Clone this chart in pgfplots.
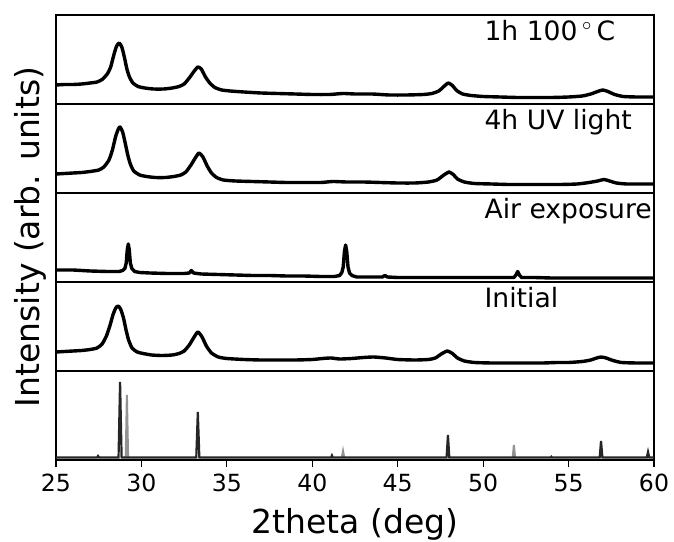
\documentclass[border=0pt]{standalone}
\usepackage{fontspec}
\setmainfont{DejaVu Sans}
\usepackage{pgfplots}
\pgfplotsset{compat=1.18}

\pgfplotsset{
  panel/.style={
    scale only axis, width=299pt, height=44.5pt,
    xmin=25, xmax=60, ymin=0, ymax=89,
    xtick=\empty, ytick=\empty,
    axis line style={line width=0.6pt, black},
    anchor=south west,
  },
}
\tikzset{
  trace/.style={black, line width=1.7pt, line join=round},
  tag/.style={anchor=base west, font=\fontsize{13.3}{16}\selectfont, inner sep=0pt},
}

\begin{document}
\begin{tikzpicture}
\path[use as bounding box] (0,0) rectangle (337pt,270.5pt);

% reference pattern (sticks)
\begin{axis}[panel, at={(28pt,40.5pt)},
  xtick={25,30,...,60}, xtick pos=left, tick align=outside,
  major tick length=3.5pt, tick style={black, line width=0.6pt},
  /pgf/number format/assume math mode=true,
  xticklabel style={font=\fontsize{11.8}{14}\selectfont},
  xlabel={2theta (deg)},
  xlabel style={font=\fontsize{16.5}{20}\selectfont, at={(axis description cs:0.5,0)}, anchor=base, yshift=-36.5pt},
]
\addplot[gray!85, line width=1pt] coordinates {(29.08,2.5)(29.15,65)(29.22,2.5)};
\addplot[gray!85, line width=1pt] coordinates {(41.73,2.5)(41.80,9)(41.87,2.5)};
\addplot[gray!85, line width=1pt] coordinates {(51.73,2.5)(51.80,15)(51.87,2.5)};
\addplot[black!85, line width=1.1pt] coordinates {
(25,2.5)(27.40,2.5)(27.46,4)(27.52,2.5)(28.66,2.5)(28.75,78)(28.84,2.5)
(33.21,2.5)(33.30,48)(33.39,2.5)(41.10,2.5)(41.15,4.5)(41.20,2.5)
(47.86,2.5)(47.94,25)(48.02,2.5)(53.96,2.5)(54.00,3.2)(54.04,2.5)
(56.82,2.5)(56.90,19)(56.98,2.5)(59.58,2.5)(59.65,8)(59.72,2.5)(60,2.5)};
\end{axis}

% Initial
\begin{axis}[panel, at={(28pt,85pt)}]
\addplot[trace, smooth, tension=0.35] coordinates {
(25,19)(25.5,19.5)(26,20)(26.5,20.5)(27,21.5)(27.4,23)(27.7,27)(27.95,35)(28.15,45)
(28.35,57)(28.5,63)(28.63,65)(28.78,62)(28.95,53)(29.1,41)(29.25,31)(29.45,23)(29.75,19)
(30.1,17.5)(30.6,16)(31.2,15.5)(31.8,16)(32.2,17.5)(32.5,20)(32.8,26)(33.05,33)(33.3,39)
(33.55,34)(33.8,25)(34.1,18)(34.5,14)(35,12.5)(36,11.5)(37,11)(38,11)(39,11)(40,11.5)
(40.6,12.5)(41.1,13)(41.6,12)(42.3,12.5)(43,13.5)(43.6,14)(44.3,13)(45,11.5)(46,11)
(46.8,11.5)(47.2,13)(47.55,17)(47.9,20)(48.2,17.5)(48.5,13)(48.9,10)(49.5,8.5)(50.5,8)
(51.5,8)(52.5,8)(53.5,8)(54.3,8.5)(55,8.5)(55.8,9.5)(56.3,11)(56.65,13)(56.9,14)(57.2,13)
(57.6,10.5)(58.1,8.5)(59,8)(60,8)};
\node[tag] at (rel axis cs:0.716,0.708) {Initial};
\end{axis}

% Air exposure
\begin{axis}[panel, at={(28pt,129.5pt)}]
\addplot[trace] coordinates {
(25,12)(26,12)(27,11)(28,10.5)(28.7,10.5)(28.9,11.5)(29.03,13.5)(29.11,19)(29.17,32)(29.23,38)
(29.29,32)(29.35,19)(29.44,13.5)(29.6,10.5)(29.9,9.5)(30.5,9)(31.5,8.5)(32.5,8.5)(32.8,9)(32.92,11.5)
(33.05,9)(33.5,8)(34.5,7.5)(35.5,7)(36.5,6.5)(37.5,6.5)(38.5,6)(39.5,6)(40.5,5.5)(41.3,5.5)
(41.6,6.5)(41.73,9.5)(41.81,15)(41.88,30)(41.95,37)(42.02,30)(42.09,15)(42.18,9)(42.32,6.5)(42.6,5)(43.5,5)
(44.1,5)(44.25,6.5)(44.4,5)(45,4.5)(46,4.5)(47,4.5)(48,4.5)(49,4.5)(50,4.5)(51,4.5)
(51.8,4.5)(51.92,7)(52.02,10.5)(52.12,7)(52.25,4.5)(53,4.5)(54,4)(55,4)(56,4)(57,4)
(58,4)(59,4)(60,4)};
\node[tag] at (rel axis cs:0.716,0.708) {Air exposure};
\end{axis}

% 4h UV light
\begin{axis}[panel, at={(28pt,174pt)}]
\addplot[trace, smooth, tension=0.35] coordinates {
(25,19)(25.5,19.5)(26,20)(26.5,20.5)(27,21.5)(27.5,23)(27.8,26)(28.1,33)(28.3,43)
(28.5,57)(28.65,64)(28.75,66)(28.9,61)(29.05,50)(29.2,38)(29.35,29)(29.55,22)(29.9,18)
(30.3,16.5)(30.8,15.5)(31.4,15.5)(31.9,16.5)(32.3,18)(32.6,21)(32.9,28)(33.15,35)(33.37,40)
(33.6,36)(33.85,27)(34.1,20)(34.4,15.5)(34.8,13)(35.5,12)(36.5,11.5)(37.5,11)(38.5,10.5)
(39.5,10.5)(40.5,10.5)(41.2,11.5)(42,11)(43,11)(44,10.5)(45,10)(46,10)(46.8,11)(47.3,13)
(47.7,18)(48,21)(48.25,18.5)(48.5,14)(48.9,11)(49.5,9.5)(50.5,9)(51.5,8.5)(52.5,8.5)
(53.5,8.5)(54.5,8.5)(55.5,9)(56.2,10.5)(56.7,12)(57.07,13.5)(57.4,12)(57.8,10)(58.4,9)
(59.2,9)(60,9)};
\node[tag] at (rel axis cs:0.716,0.708) {4h UV light};
\end{axis}

% 1h 100 C
\begin{axis}[panel, at={(28pt,218.5pt)}]
\addplot[trace, smooth, tension=0.35] coordinates {
(25,19)(25.5,19.5)(26,19.5)(26.5,20)(27,21)(27.4,22)(27.7,24.5)(28,30)(28.2,37)(28.4,50)
(28.55,58)(28.7,61)(28.85,57)(29,47)(29.15,35)(29.3,27)(29.5,21)(29.8,17.5)(30.2,16)
(30.7,15)(31.3,15)(31.8,16)(32.2,17.5)(32.5,20)(32.8,26)(33.05,32)(33.3,37)(33.5,35)
(33.75,27)(34,21)(34.3,16.5)(34.7,14)(35.2,13)(36,12)(37,11)(38,10.5)(39,10)(40,9.5)
(41,9.5)(41.8,10.5)(42.5,10)(43.5,10)(44.5,9)(45.5,9)(46.5,9.5)(47,10.5)(47.4,13)
(47.7,17.5)(47.95,21)(48.2,18.5)(48.45,13.5)(48.8,10)(49.3,8.5)(50,7.5)(51,7)(52,6.5)
(53,6.5)(54,6.5)(55,7)(55.8,8)(56.3,10)(56.7,12.5)(57,14)(57.3,12.5)(57.7,9.5)(58.2,7.5)
(59,7)(60,7)};
\node[tag] at (rel axis cs:0.716,0.708) {1h 100\,$^\circ$\,C};
\end{axis}

\node[rotate=90, font=\fontsize{16.5}{20}\selectfont] at (15pt,152pt) {Intensity (arb. units)};
\end{tikzpicture}
\end{document}
